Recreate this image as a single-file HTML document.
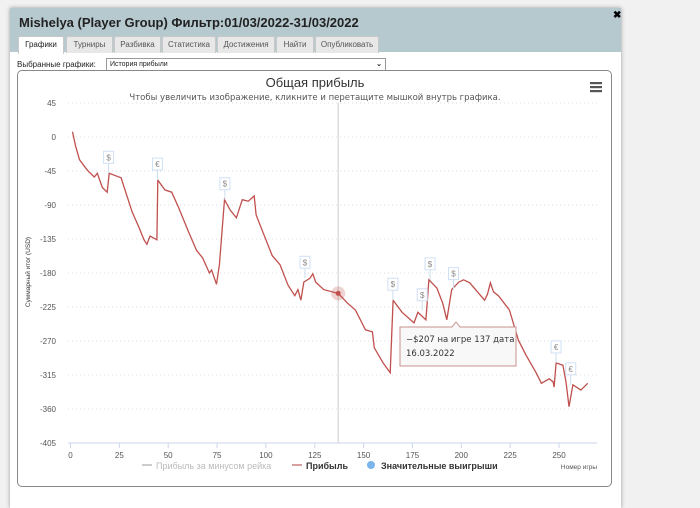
<!DOCTYPE html>
<html><head><meta charset="utf-8">
<style>
body{margin:0;width:700px;height:496px;background:#f1f1f1;font-family:"Liberation Sans",sans-serif;overflow:hidden;position:relative}
#win{position:absolute;left:10px;top:8px;width:611px;height:500px;background:#fff;box-shadow:0 0 4px #999}
#hdr{position:absolute;left:0;top:0;width:611px;height:44px;background:#b5c9cf}
#title{position:absolute;left:9px;top:7px;font-size:13px;font-weight:bold;color:#222}
.tab{position:absolute;top:28px;height:16px;font-size:8px;line-height:16px;text-align:center;background:#e8e8e8;border:1px solid #c8c8c8;border-bottom:none;color:#555;border-radius:2px 2px 0 0}
.tab.on{background:#fff;color:#222;height:17px}
#close{position:absolute;left:603px;top:2px;font-size:10px;font-weight:bold}
#sel-label{position:absolute;left:7px;top:52px;font-size:8px;color:#222}
#sel{position:absolute;left:96px;top:50px;width:275px;height:11px;border:1px solid #999;font-size:7px;line-height:11px;padding-left:3px;color:#222}
#box{position:absolute;left:7px;top:62px;width:593px;height:415px;border:1px solid #888;border-radius:5px}
svg{position:absolute;left:0;top:0}
</style></head><body>
<div id="win">
<div id="hdr">
<div id="title">Mishelya (Player Group) Фильтр:01/03/2022-31/03/2022</div>
<div id="close">✖</div>
<div class="tab on" style="left:8px;width:44px">Графики</div>
<div class="tab" style="left:56px;width:45px">Турниры</div>
<div class="tab" style="left:104px;width:45px">Разбивка</div>
<div class="tab" style="left:152px;width:52px">Статистика</div>
<div class="tab" style="left:207px;width:56px">Достижения</div>
<div class="tab" style="left:266px;width:36px">Найти</div>
<div class="tab" style="left:305px;width:62px">Опубликовать</div>
</div>
<div id="sel-label">Выбранные графики:</div>
<div id="sel">История прибыли<span style="position:absolute;right:3px;font-weight:bold">⌄</span></div>
<div id="box"></div>
</div>
<svg id="chart" width="700" height="496"></svg>
<script>
const games=[1,2.5,4.6,8.6,12.2,13.7,16.3,18.8,19.8,23.9,25.9,27.9,31.5,35.1,37.6,39.1,40.7,44.2,44.7,48.3,51.8,55.4,60.5,64.5,67.6,71.1,72.2,74.7,76.2,78.8,81.8,84.9,87.9,91,94,95,99.1,103.2,107.2,111.3,114.8,116.4,117.9,119.4,122.5,124,125.5,129.6,137,141.8,145.8,150.9,154.5,155.5,160,163.6,165.1,169.7,175.8,177.8,181.9,183.4,187.5,190.5,192.6,195.1,198.7,201.2,204.3,211.9,213.4,214.9,216.5,219,224.6,229.2,233.2,238.3,241,245,247,247.5,248.5,252,253.6,255.1,257.1,261.2,264.7];
const profit=[7,-11,-30,-44,-53,-48,-67,-73,-48,-52,-54,-70,-99,-120,-136,-142,-131,-136,-57,-70,-73,-94,-126,-150,-160,-180,-176,-195,-169,-83,-97,-107,-83,-85,-78,-103,-130,-157,-169,-196,-210,-202,-216,-192,-187,-181,-192,-202,-207,-220,-229,-255,-258,-279,-299,-312,-216,-232,-246,-232,-242,-189,-200,-220,-242,-202,-192,-189,-193,-216,-208,-193,-205,-210,-229,-269,-289,-312,-326,-320,-324,-331,-299,-302,-324,-357,-328,-335,-326];
const flagGames=[19.5,44.5,79,120,165,180,184,196,248.5,256];
const flagValues=[-48,-57,-83,-187,-216,-230,-189,-202,-299,-328];
const flagSymbols=['$','€','$','$','$','$','$','$','€','€'];
const yTicks=[45,0,-45,-90,-135,-180,-225,-270,-315,-360,-405];
const xTicks=[0,25,50,75,100,125,150,175,200,225,250];
const tipGame=137, tipValue=-207;
const NS='http://www.w3.org/2000/svg';
const svg=document.getElementById('chart');
const X=g=>70.5+g*(559-70.5)/250;
const Y=v=>137-v*(443-137)/405;
function mk(t,a,p){const e=document.createElementNS(NS,t);for(const k in a)e.setAttribute(k,a[k]);(p||svg).appendChild(e);return e;}
function tx(x,y,s,a,p){const e=mk('text',Object.assign({x:x,y:y},a),p);e.textContent=s;return e;}
let t;
t=tx(315,87,'Общая прибыль',{'font-size':13,fill:'#333','text-anchor':'middle'});

t=tx(315,100,'Чтобы увеличить изображение, кликните и перетащите мышкой внутрь графика.',{'font-size':8.5,fill:'#555','text-anchor':'middle','font-family':'DejaVu Sans'});

const menu=mk('g',{});

[82,86,90].forEach(y=>mk('rect',{x:590,y:y,width:12,height:2.2,fill:'#555'},menu));
yTicks.forEach(v=>{
 const l=mk('line',{x1:68,x2:597,y1:Y(v),y2:Y(v),stroke:v===-405?'#ccd6eb':'#ddd','stroke-dasharray':v===-405?'':'1,3'});
 
 const e=tx(56,Y(v)+3,String(v),{'font-size':8,fill:'#555','text-anchor':'end'});
 
});
xTicks.forEach(g=>{
 const l=mk('line',{x1:X(g),x2:X(g),y1:443,y2:448,stroke:'#ccd6eb'});
 
 const e=tx(X(g),458,String(g),{'font-size':8,fill:'#555','text-anchor':'middle'});
 
});
t=tx(30,272,'Суммарный итог (USD)',{'font-size':6.5,fill:'#333','text-anchor':'middle',transform:'rotate(-90 30 272)'});

t=tx(597,469,'Номер игры',{'font-size':6.5,fill:'#555','text-anchor':'end'});

const cross=mk('line',{x1:X(tipGame),x2:X(tipGame),y1:103,y2:443,stroke:'#ccc','stroke-width':1});

const line=mk('path',{d:games.map((g,i)=>(i?'L':'M')+X(g).toFixed(1)+','+Y(profit[i]).toFixed(1)).join(''),fill:'none',stroke:'#c0504d','stroke-width':1.3});

flagGames.forEach((g,i)=>{
 const gr=mk('g',{});
 
 const fy=Y(flagValues[i])-22;
 mk('line',{x1:X(g),x2:X(g),y1:fy+12,y2:Y(flagValues[i]),stroke:'#cde','stroke-width':1},gr);
 mk('rect',{x:X(g)-5,y:fy,width:10,height:12,fill:'#fff',stroke:'#cfe0f5'},gr);
 tx(X(g),fy+9,flagSymbols[i],{'font-size':8,fill:'#888','text-anchor':'middle'},gr);
});
const hc=mk('circle',{cx:X(tipGame),cy:Y(tipValue),r:7,fill:'rgba(192,80,77,0.25)'});

const hd=mk('circle',{cx:X(tipGame),cy:Y(tipValue),r:2.5,fill:'#c0504d'});

const tip=mk('g',{});

mk('path',{d:'M400,327 L452,327 L456,322 L460,327 L516,327 L516,366 L400,366 Z',fill:'#f8f8f8',stroke:'#c9908e','stroke-width':1},tip);
tx(406,342,'−$'+Math.abs(tipValue)+' на игре '+tipGame+' дата',{'font-size':8.5,fill:'#333','font-family':'DejaVu Sans'},tip);
tx(406,356,'16.03.2022',{'font-size':8.5,fill:'#333','font-family':'DejaVu Sans'},tip);
const lg=[['line',142,'#ccc','Прибыль за минусом рейка','#bbb'],['line',292,'#d9a0a0','Прибыль','#333'],['dot',367,'#7cb5ec','Значительные выигрыши','#333']];
lg.forEach(a=>{
 const gr=mk('g',{});
 
 if(a[0]==='line')mk('rect',{x:a[1],y:464,width:10,height:2,fill:a[2]},gr);
 else mk('circle',{cx:a[1]+4,cy:465,r:4,fill:a[2]},gr);
 tx(a[1]+14,469,a[3],{'font-size':9,fill:a[4],'font-weight':a[4]==='#bbb'?'normal':'bold'},gr);
});
</script>
</body></html>
